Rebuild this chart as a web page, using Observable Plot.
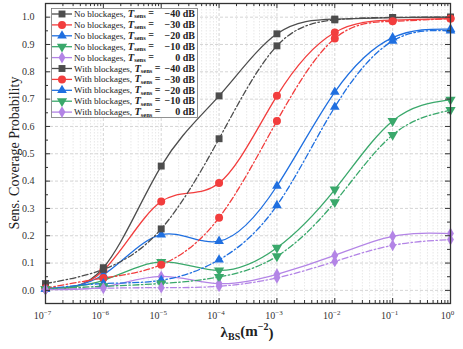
<!DOCTYPE html>
<html><head><meta charset="utf-8">
<script src="https://cdn.jsdelivr.net/npm/d3@7"></script>
<script src="https://cdn.jsdelivr.net/npm/@observablehq/plot@0.6"></script>
<style>body{margin:0;background:#fff}#chart svg{display:block}</style>
</head><body><div id="chart"></div>
<script>
// x values (BS density, m^-2)
const lambdaBS = [1e-7, 1e-6, 1e-5, 1e-4, 1e-3, 1e-2, 1e-1, 1];
const thresholds = ["−40", "−30", "−20", "−10", "0"];
// No blockages
const noBlk40 = [0.010, 0.083, 0.455, 0.712, 0.939, 0.993, 0.998, 1.000];
const noBlk30 = [0.006, 0.073, 0.325, 0.393, 0.712, 0.944, 0.989, 0.995];
const noBlk20 = [0.005, 0.057, 0.204, 0.180, 0.382, 0.726, 0.925, 0.956];
const noBlk10 = [0.005, 0.037, 0.104, 0.073, 0.156, 0.369, 0.620, 0.698];
const noBlk0  = [0.004, 0.012, 0.051, 0.025, 0.059, 0.128, 0.198, 0.208];
// With blockages
const blk40 = [0.025, 0.077, 0.225, 0.555, 0.895, 0.990, 0.999, 1.000];
const blk30 = [0.008, 0.045, 0.094, 0.266, 0.620, 0.922, 0.985, 0.995];
const blk20 = [0.005, 0.025, 0.037, 0.112, 0.311, 0.671, 0.913, 0.950];
const blk10 = [0.004, 0.015, 0.025, 0.049, 0.125, 0.323, 0.569, 0.660];
const blk0  = [0.003, 0.008, 0.010, 0.015, 0.046, 0.106, 0.165, 0.186];

const colors = ["#4d4d4d", "#f23d3d", "#1f6fe0", "#3aa86b", "#b384e6"];
const triDown = {draw(ctx, size) {
  const s3 = Math.sqrt(3); const y = -Math.sqrt(size / (s3 * 3));
  ctx.moveTo(0, -y * 2); ctx.lineTo(-s3 * y, y); ctx.lineTo(s3 * y, y); ctx.closePath();
}};
const symbols = ["square", "circle", "triangle", triDown, "diamond"];
const radii = [3.9, 4, 3.6, 3.8, 3.6];

const noBlk = [noBlk40, noBlk30, noBlk20, noBlk10, noBlk0];
const blk = [blk40, blk30, blk20, blk10, blk0];
const series = [];
noBlk.forEach((v, i) => series.push({label: "No blockages, ", thr: thresholds[i], i, dash: null, values: v}));
blk.forEach((v, i) => series.push({label: "With blockages, ", thr: thresholds[i], i, dash: "6,2.5,1.5,2.5", values: v}));

const majors = lambdaBS;
const minors = [];
for (let e = -7; e < 0; e++) for (let k = 2; k <= 9; k++) minors.push(k * Math.pow(10, e));
const yMajor = d3.range(0, 11).map(d => d / 10);
const yMinor = d3.range(0, 10).map(d => d / 10 + 0.05);

const marks = [
  Plot.ruleX(minors, {stroke: "#e2e2e2", strokeDasharray: "1.5,1.5", strokeWidth: 0.8}),
  Plot.ruleX(majors, {stroke: "#d0d0d0", strokeDasharray: "3,2", strokeWidth: 0.9}),
  Plot.ruleY(yMajor, {stroke: "#d0d0d0", strokeDasharray: "3,2", strokeWidth: 0.9}),
];
series.forEach(s => {
  const data = lambdaBS.map((x, j) => ({x, y: s.values[j]}));
  marks.push(Plot.line(data, {x: "x", y: "y", curve: "natural", stroke: colors[s.i], strokeWidth: 1.3, strokeDasharray: s.dash}));
});
series.forEach(s => {
  const data = lambdaBS.map((x, j) => ({x, y: s.values[j]}));
  marks.push(Plot.dot(data, {x: "x", y: "y", symbol: symbols[s.i], r: radii[s.i], fill: colors[s.i], stroke: "none"}));
});
// inward ticks on all four sides
marks.push(
  Plot.ruleX(majors, {insetTop: 295, stroke: "#333"}),
  Plot.ruleX(minors, {insetTop: 297, stroke: "#333"}),
  Plot.ruleX(majors, {insetBottom: 295, stroke: "#333"}),
  Plot.ruleX(minors, {insetBottom: 297, stroke: "#333"}),
  Plot.ruleY(yMajor, {insetRight: 400, stroke: "#333"}),
  Plot.ruleY(yMinor, {insetRight: 402, stroke: "#333"}),
  Plot.ruleY(yMajor, {insetLeft: 400, stroke: "#333"}),
  Plot.ruleY(yMinor, {insetLeft: 402, stroke: "#333"}),
  Plot.axisX(majors, {tickSize: 0, tickPadding: 8, fontSize: 10, label: null, tickFormat: d => "10^" + Math.round(Math.log10(d))}),
  Plot.axisY(yMajor, {tickSize: 0, tickPadding: 11, fontSize: 10, label: null, tickFormat: d3.format(".1f")}),
  Plot.frame({stroke: "#333", strokeWidth: 1.3})
);

const chart = Plot.plot({
  width: 463, height: 349,
  marginLeft: 45, marginRight: 13, marginTop: 3, marginBottom: 46,
  style: {fontFamily: "'Liberation Serif', 'DejaVu Serif', serif", color: "#333", background: "#fff"},
  x: {type: "log", domain: [1e-7, 1], range: [45, 450]},
  y: {domain: [-0.048, 1.05]},
  marks
});
document.getElementById("chart").appendChild(chart);
const svg = d3.select(chart);

// superscript tick labels
svg.selectAll('g[aria-label="x-axis tick label"] text').each(function() {
  const t = this.textContent; const parts = t.split("^");
  if (parts.length !== 2) return;
  const sel = d3.select(this); sel.text(null).attr("dx", -3);
  sel.append("tspan").text(parts[0]);
  sel.append("tspan").attr("dy", "-0.5em").attr("font-size", "7px").text(parts[1].replace("-", "−"));
});

// axis titles
svg.append("text").attr("transform", "translate(19,153) rotate(-90)").attr("text-anchor", "middle")
  .attr("font-size", 14).attr("fill", "#222").text("Sens. Coverage Probability");
const xl = svg.append("text").attr("x", 247).attr("y", 337).attr("text-anchor", "middle")
  .attr("font-size", 15).attr("font-weight", "bold").attr("fill", "#222");
xl.append("tspan").text("λ");
xl.append("tspan").attr("dy", "0.3em").attr("font-size", 10).text("BS");
xl.append("tspan").attr("dy", "-0.3em").text("(m");
xl.append("tspan").attr("dy", "-0.55em").attr("font-size", 10).text("−2");
xl.append("tspan").attr("dy", "0.55em").text(")");

// legend
const lg = svg.append("g");
lg.append("rect").attr("x", 51.5).attr("y", 8.5).attr("width", 146).attr("height", 109)
  .attr("fill", "#fff").attr("stroke", "#777").attr("stroke-width", 0.8);
series.forEach((s, k) => {
  const y = 14 + k * 10.9;
  lg.append("line").attr("x1", 52).attr("x2", 72).attr("y1", y).attr("y2", y)
    .attr("stroke", colors[s.i]).attr("stroke-width", 1.3);
  const sym = d3.symbol(typeof symbols[s.i] === "string" ? {
    square: d3.symbolSquare, circle: d3.symbolCircle, triangle: d3.symbolTriangle, diamond: d3.symbolDiamond}[symbols[s.i]] : symbols[s.i],
    Math.PI * radii[s.i] * radii[s.i]);
  lg.append("path").attr("d", sym()).attr("transform", `translate(62,${y})`).attr("fill", colors[s.i]);
  const t = lg.append("text").attr("x", 74).attr("y", y + 3).attr("text-anchor", "start").attr("font-size", 9).attr("fill", "#222");
  t.append("tspan").text(s.label);
  t.append("tspan").attr("font-style", "italic").attr("font-weight", "bold").attr("font-size", 10.5).text("T");
  t.append("tspan").attr("dy", "0.22em").attr("font-size", 6.5).attr("font-weight", "bold").text("sens");
  t.append("tspan").attr("dy", "-0.22em").attr("font-size", 10).attr("font-weight", "bold").text(" =");
  lg.append("text").attr("x", 195).attr("y", y + 3.2).attr("text-anchor", "end").attr("font-size", 10)
    .attr("font-weight", "bold").attr("fill", "#222").text(s.thr + " dB");
});
</script></body></html>
